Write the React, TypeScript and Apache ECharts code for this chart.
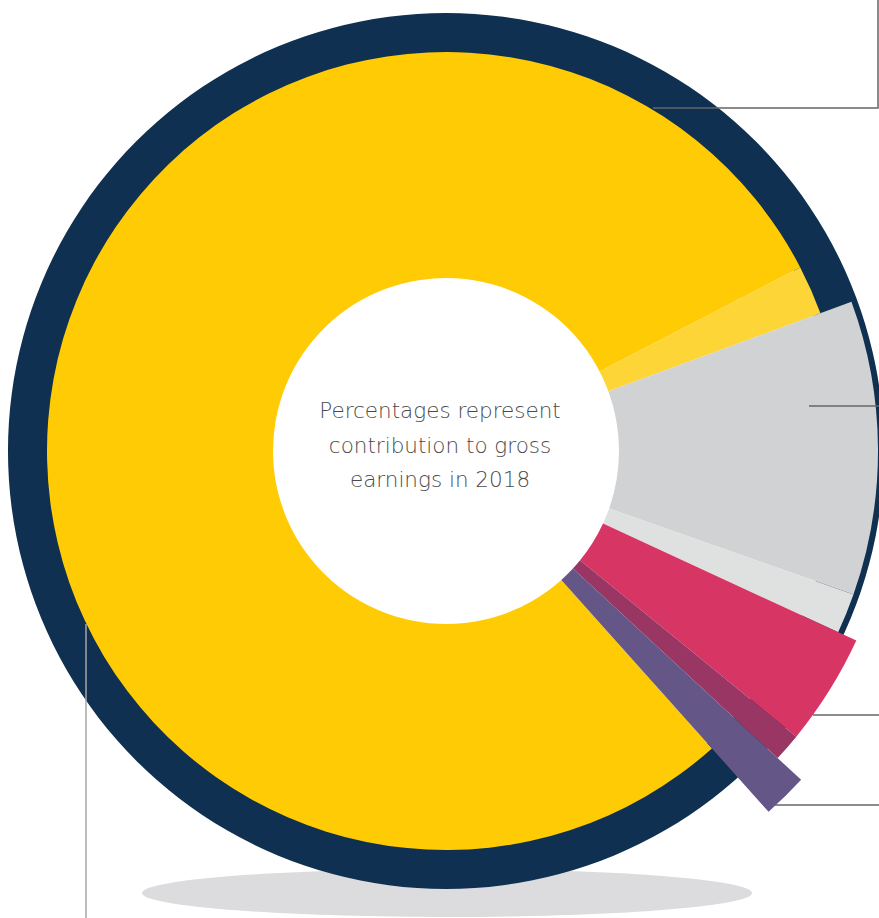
import { useEffect, useRef } from "react";
import * as echarts from "echarts";

// ---- data ----
const categories = [
  "Segment A",
  "Segment A (other)",
  "Segment B",
  "Segment B (other)",
  "Segment C",
  "Segment C (other)",
  "Segment D",
];
const shares = [79.0, 2.0, 11.0, 1.5, 4.0, 1.0, 1.5];
// ring group each category is drawn in
const ringGroup = [0, 0, 1, 1, 2, 2, 3];
const centerNote = ["Percentages represent", "contribution to gross", "earnings in 2018"];

// ---- styles ----
const sliceColors = ["#ffcb05", "#fed536", "#d1d2d4", "#dfe0e0", "#d73665", "#993663", "#645687"];
const groupOuterRadius = [399, 432, 452, 484];
const INNER_R = 173;
const CX = 446;
const CY = 451;
const NAVY = "#0f3050";
const START_ANGLE = 311.8;

export default function App() {
  const ref = useRef<HTMLDivElement>(null);
  useEffect(() => {
    if (!ref.current) return;
    const chart = echarts.init(ref.current, null, { renderer: "svg" });

    const groupSeries = groupOuterRadius.map((R, g) => ({
      type: "pie",
      center: [CX, CY],
      radius: [INNER_R, R],
      startAngle: START_ANGLE,
      clockwise: true,
      silent: true,
      avoidLabelOverlap: false,
      label: { show: false },
      labelLine: { show: false },
      emphasis: { disabled: true },
      itemStyle: { borderWidth: 0 },
      data: categories.map((name, i) => ({
        name,
        value: shares[i],
        itemStyle: { color: ringGroup[i] === g ? sliceColors[i] : "rgba(0,0,0,0)" },
      })),
    }));

    chart.setOption({
      animation: false,
      backgroundColor: "#ffffff",
      series: [
        {
          type: "pie",
          center: [CX, CY],
          radius: [392, 438],
          silent: true,
          label: { show: false },
          labelLine: { show: false },
          emphasis: { disabled: true },
          itemStyle: { color: NAVY, borderWidth: 0 },
          data: [{ name: "ring", value: 1 }],
        },
        ...groupSeries,
      ],
      graphic: [
        {
          type: "ellipse",
          z: 0,
          silent: true,
          shape: { cx: 447, cy: 893, rx: 305, ry: 24 },
          style: { fill: "#dcdcde" },
        },
        {
          type: "polyline",
          z: 100,
          silent: true,
          shape: { points: [[653, 108], [878, 108], [878, 0]] },
          style: { stroke: "#666666", lineWidth: 1.5, fill: "none" },
        },
        {
          type: "polyline",
          z: 100,
          silent: true,
          shape: { points: [[809, 406], [879, 406]] },
          style: { stroke: "#666666", lineWidth: 1.5, fill: "none" },
        },
        {
          type: "polyline",
          z: 100,
          silent: true,
          shape: { points: [[813, 715], [879, 715]] },
          style: { stroke: "#666666", lineWidth: 1.5, fill: "none" },
        },
        {
          type: "polyline",
          z: 100,
          silent: true,
          shape: { points: [[775, 805], [879, 805]] },
          style: { stroke: "#666666", lineWidth: 1.5, fill: "none" },
        },
        {
          type: "polyline",
          z: 100,
          silent: true,
          shape: { points: [[86, 624], [86, 918]] },
          style: { stroke: "#a6a6a6", lineWidth: 1.5, fill: "none" },
        },
        {
          type: "text",
          z: 100,
          silent: true,
          x: 440,
          y: 445,
          style: {
            text: centerNote.join("\n"),
            align: "center",
            verticalAlign: "middle",
            fontFamily: "DejaVu Sans",
            fontWeight: 200,
            fontSize: 21.5,
            lineHeight: 34.5,
            fill: "#4a4a4a",
          },
        },
      ],
    });
    return () => chart.dispose();
  }, []);
  return (
    <div
      ref={ref}
      style={{ position: "absolute", left: 0, top: 0, width: 879, height: 918 }}
    />
  );
}
